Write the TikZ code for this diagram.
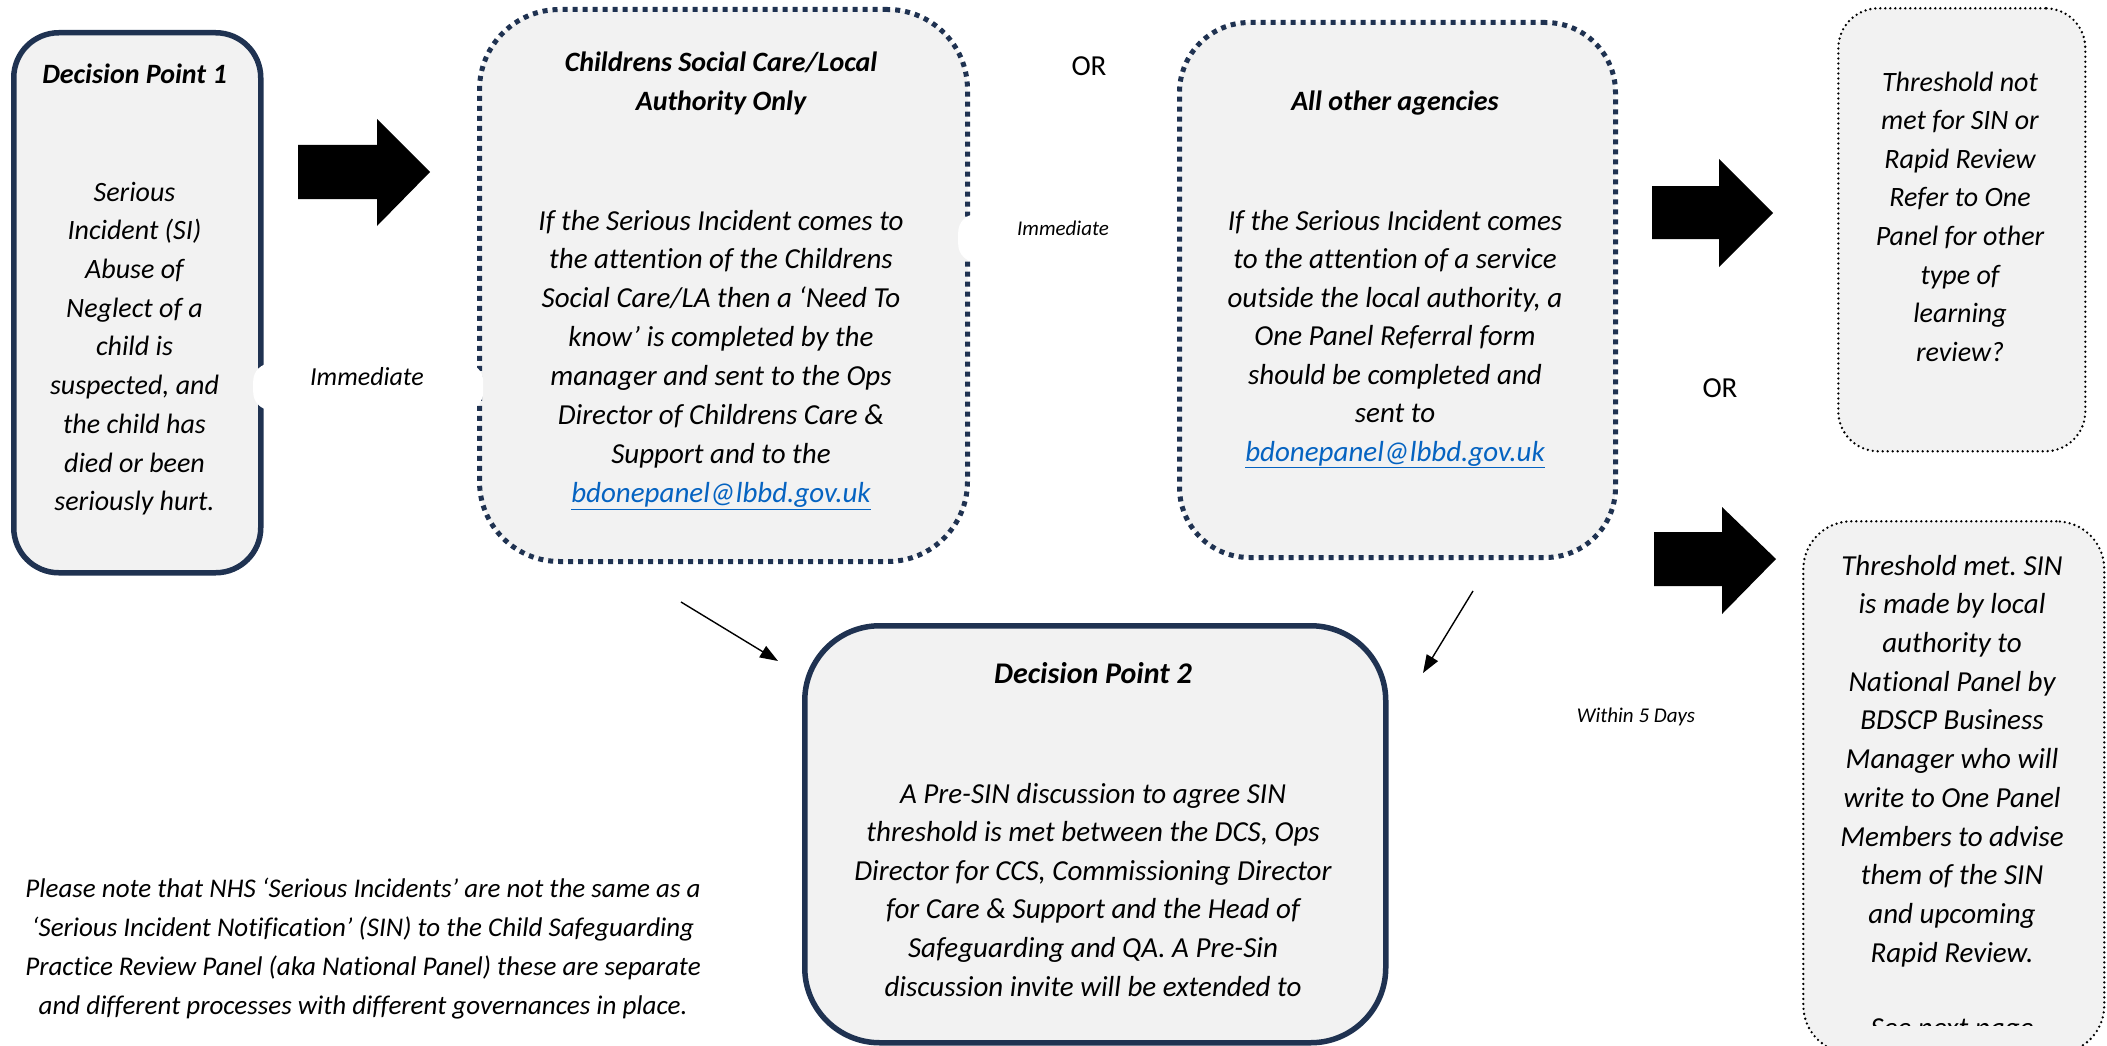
\documentclass[tikz,border=0pt]{standalone}
\usepackage{fontspec}
\setmainfont{Carlito}[Ligatures={NoCommon}]
\frenchspacing
\usetikzlibrary{arrows.meta}
\definecolor{navy}{HTML}{1F3251}
\definecolor{boxfill}{HTML}{F2F2F2}
\definecolor{linkblue}{HTML}{0563C1}
\newcommand{\maillink}{\textcolor{linkblue}{\underline{bdonepanel@lbbd.gov.uk}}}
\tikzset{
  boxbase/.style={fill=boxfill, inner sep=0pt, anchor=north west},
  solidbox/.style={boxbase, draw=navy, line width=5.5pt},
  squaredots/.style={boxbase, draw=navy, line width=5pt, line cap=butt, dash pattern=on 5pt off 5pt},
  finedots/.style={boxbase, draw=black, line width=2.6pt, line cap=round, dash pattern=on 0pt off 5pt},
  pill/.style={fill=white, draw=none, inner sep=0pt, anchor=north west, rounded corners=18pt},
  body/.style={inner sep=0pt, align=center, anchor=north, font=\fontsize{28}{38.7}\selectfont\itshape},
  bodyl/.style={inner sep=0pt, align=center, anchor=north, font=\fontsize{29}{38.8}\selectfont\itshape},
  title/.style={inner sep=0pt, align=center, anchor=north, font=\fontsize{28}{39}\selectfont\bfseries\itshape},
  smalllabel/.style={inner sep=0pt, anchor=base, font=\fontsize{21}{25}\selectfont\itshape},
  orlabel/.style={inner sep=0pt, anchor=base, font=\fontsize{29}{35}\selectfont},
  blockarrow/.style={fill=black},
  thinarrow/.style={draw=black, line width=1.4pt, -{Triangle[length=18pt,width=13pt]}}
}
\begin{document}
\begin{tikzpicture}[x=1pt,y=-1pt]
\clip (0,0) rectangle (2107,1046);
\fill[white] (0,0) rectangle (2107,1046);

% boxes
\node[solidbox, rounded corners=45pt, minimum width=247pt, minimum height=540pt] (b1) at (11,30) {};
\node[squaredots, rounded corners=80pt, minimum width=488pt, minimum height=552pt] (b2) at (477,7) {};
\node[squaredots, rounded corners=70pt, minimum width=436pt, minimum height=535pt] (b3) at (1177,20) {};
\node[finedots, rounded corners=40pt, minimum width=247pt, minimum height=443pt] (b4) at (1837,7) {};
\node[finedots, rounded corners=48pt, minimum width=301pt, minimum height=532pt] (b5) at (1802,520) {};
\node[solidbox, rounded corners=75pt, minimum width=581pt, minimum height=417pt] (dp2) at (802,623) {};

% white label backgrounds
\node[pill, minimum width=230pt, minimum height=47pt] (p1) at (253,363) {};
\node[pill, minimum width=207pt, minimum height=48pt] (p2) at (958,214) {};

% box 1
\node[title] (b1t) at (134.5,55.9) {\strut Decision Point 1};
\node[body] (b1b) at (134.5,173.9) {\strut Serious\\Incident (SI)\\Abuse of\\Neglect of a\\child is\\suspected, and\\the child has\\died or been\\seriously hurt.};

% box 2
\node[title] (b2t) at (721,43.9) {\strut Childrens Social Care/Local\\Authority Only};
\node[bodyl, font=\fontsize{29}{38.9}\selectfont\itshape] (b2b) at (721,202.6) {\strut If the Serious Incident comes to\\the attention of the Childrens\\Social Care/LA then a ‘Need To\\know’ is completed by the\\manager and sent to the Ops\\Director of Childrens Care \&\\Support and to the\\\maillink};

% box 3
\node[title] (b3t) at (1395,82.9) {\strut All other agencies};
\node[bodyl, font=\fontsize{29}{38.5}\selectfont\itshape] (b3b) at (1395,203) {\strut If the Serious Incident comes\\to the attention of a service\\outside the local authority, a\\One Panel Referral form\\should be completed and\\sent to\\\maillink};

% box 4
\node[body, font=\fontsize{28}{38.6}\selectfont\itshape] (b4b) at (1960,63.9) {\strut Threshold not\\met for SIN or\\Rapid Review\\Refer to One\\Panel for other\\type of\\learning\\review?};

% box 5
\node[bodyl, font=\fontsize{29}{38.7}\selectfont\itshape] (b5b) at (1952,547.9) {\strut Threshold met. SIN\\is made by local\\authority to\\National Panel by\\BDSCP Business\\Manager who will\\write to One Panel\\Members to advise\\them of the SIN\\and upcoming\\Rapid Review.};
\begin{scope}
\clip (1802,990) rectangle (2103,1025);
\node[inner sep=0pt, anchor=base, font=\fontsize{29}{38.7}\selectfont\itshape] (b5n) at (1952,1037) {See next page};
\end{scope}

% decision point 2
\node[title, font=\fontsize{30}{40}\selectfont\bfseries\itshape] (dp2t) at (1093,655.5) {\strut Decision Point 2};
\node[bodyl, font=\fontsize{29}{38.6}\selectfont\itshape] (dp2b) at (1093,775.9) {\strut A Pre-SIN discussion to agree SIN\\threshold is met between the DCS, Ops\\Director for CCS, Commissioning Director\\for Care \& Support and the Head of\\Safeguarding and QA. A Pre-Sin\\discussion invite will be extended to};

% note
\node[body, font=\fontsize{27}{39}\selectfont\itshape] (note) at (363,870.3) {\strut Please note that NHS ‘Serious Incidents’ are not the same as a\\‘Serious Incident Notification’ (SIN) to the Child Safeguarding\\Practice Review Panel (aka National Panel) these are separate\\and different processes with different governances in place.};

% labels
\node[inner sep=0pt, anchor=base, font=\fontsize{26}{30}\selectfont\itshape] (imm1) at (367,385) {Immediate};
\node[smalllabel] (imm2) at (1063,235) {Immediate};
\node[smalllabel] (within) at (1636,722) {Within 5 Days};
\node[orlabel] (or1) at (1089,76) {OR};
\node[orlabel] (or2) at (1720,397) {OR};

% block arrows
\fill[blockarrow] (298,145) -- (377,145) -- (377,119) -- (430,172) -- (377,226) -- (377,199) -- (298,199) -- cycle;
\fill[blockarrow] (1652,186) -- (1719,186) -- (1719,159) -- (1773,213) -- (1719,267) -- (1719,239) -- (1652,239) -- cycle;
\fill[blockarrow] (1654,532) -- (1722,532) -- (1722,507) -- (1776,559) -- (1722,614) -- (1722,586) -- (1654,586) -- cycle;

% thin connectors
\coordinate (c1s) at (681,602);
\coordinate (c1e) at (778,661);
\coordinate (c2s) at (1473,591);
\coordinate (c2e) at (1423,673);
\draw[thinarrow] (c1s) -- (c1e);
\draw[thinarrow] (c2s) -- (c2e);
\end{tikzpicture}
\end{document}
